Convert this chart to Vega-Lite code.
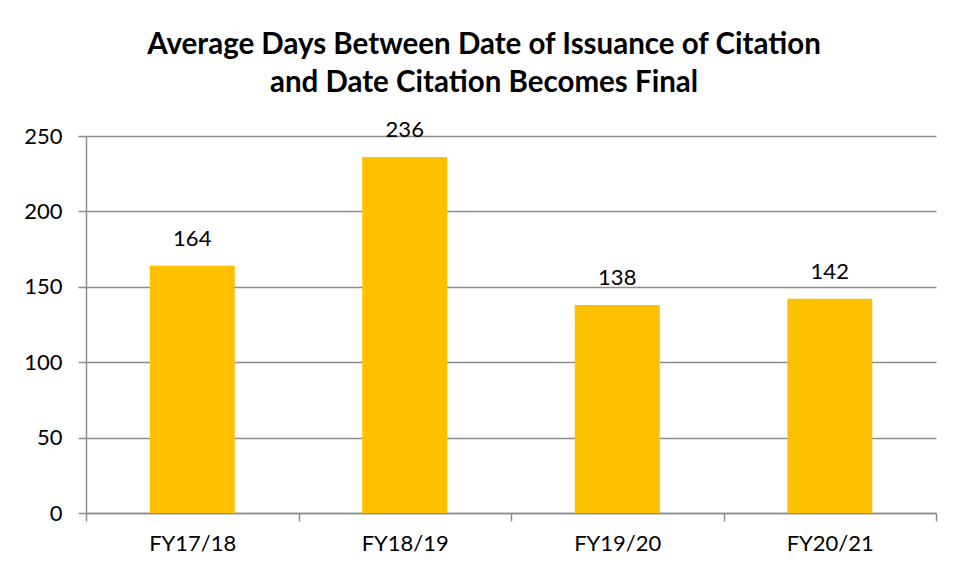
{
  "$schema": "https://vega.github.io/schema/vega-lite/v6.json",
  "width": 850,
  "height": 377,
  "autosize": {"type": "none"},
  "padding": {"left": 86, "top": 136, "right": 23, "bottom": 65},
  "background": "white",
  "title": {
    "text": ["Average Days Between Date of Issuance of Citation", "and Date Citation Becomes Final"],
    "font": "Lato",
    "fontSize": 29.5,
    "fontWeight": "bold",
    "color": "#000000",
    "lineHeight": 38,
    "anchor": "middle",
    "frame": "group",
    "dx": -27,
    "offset": 21
  },
  "data": {
    "values": [
      {"year": "FY17/18", "days": 164},
      {"year": "FY18/19", "days": 236},
      {"year": "FY19/20", "days": 138},
      {"year": "FY20/21", "days": 142}
    ]
  },
  "encoding": {
    "x": {
      "field": "year",
      "type": "nominal",
      "sort": null,
      "scale": {"paddingInner": 0, "paddingOuter": 0},
      "axis": {
        "title": null,
        "labelAngle": 0,
        "labelFont": "Lato",
        "labelFontSize": 22,
        "labelColor": "#000000",
        "labelPadding": 12,
        "tickBand": "extent",
        "ticks": true,
        "tickSize": 8,
        "tickColor": "#8c8c8c",
        "tickWidth": 1.5,
        "domainColor": "#8c8c8c",
        "domainWidth": 1.5,
        "grid": false
      }
    },
    "y": {
      "field": "days",
      "type": "quantitative",
      "scale": {"domain": [0, 250]},
      "axis": {
        "title": null,
        "values": [0, 50, 100, 150, 200, 250],
        "labelFont": "Lato",
        "labelFontSize": 22,
        "labelColor": "#000000",
        "labelPadding": 16,
        "tickSize": 8,
        "tickColor": "#8c8c8c",
        "tickWidth": 1.5,
        "domainColor": "#8c8c8c",
        "domainWidth": 1.5,
        "grid": true,
        "gridColor": "#8c8c8c",
        "gridWidth": 1.5
      }
    }
  },
  "layer": [
    {"mark": {"type": "bar", "color": "#FFC000", "width": {"band": 0.4}}},
    {
      "mark": {"type": "text", "dy": -27, "font": "Lato", "fontSize": 22, "color": "#000000"},
      "encoding": {"text": {"field": "days", "type": "quantitative"}}
    }
  ],
  "config": {"view": {"stroke": null}}
}
